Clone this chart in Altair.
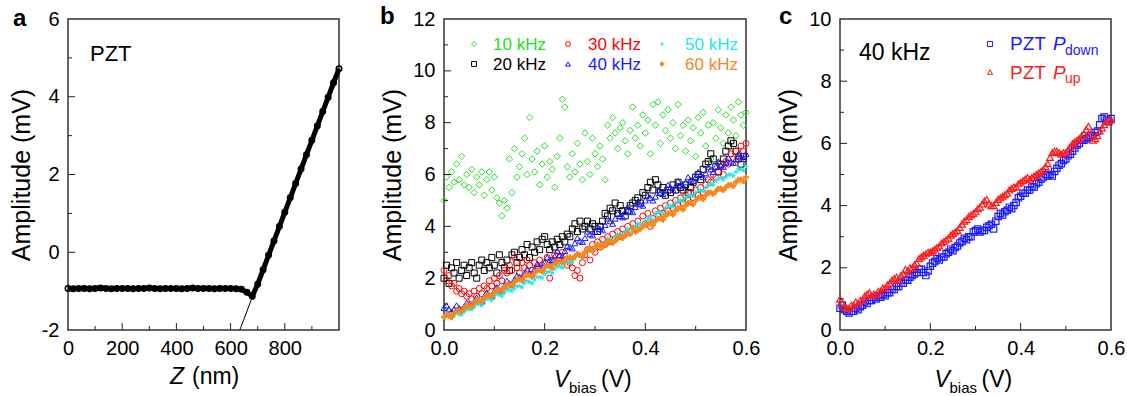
import altair as alt
import pandas as pd

FONT = "Liberation Sans"

# ---------------- Panel a data ----------------
Z_NM = [i * 20 for i in range(51)]
AMP_A = [-0.93, -0.94, -0.93, -0.93, -0.94, -0.93, -0.92, -0.93, -0.94, -0.93,
         -0.93, -0.93, -0.94, -0.93, -0.93, -0.92, -0.93, -0.94, -0.93, -0.93,
         -0.93, -0.94, -0.93, -0.92, -0.93, -0.93, -0.93, -0.94, -0.93, -0.93,
         -0.93, -0.94,
         -0.95, -1.03, -1.13, -0.82, -0.45, -0.08, 0.29, 0.66, 1.03, 1.40,
         1.77, 2.14, 2.51, 2.88, 3.25, 3.62, 3.99, 4.36, 4.72]
FIT_Z = [634, 1000]
FIT_A = [-2.0, 4.72]

# ---------------- Panel b data ----------------
V_FINE = [i / 200 for i in range(121)]   # 0.000 .. 0.600

AMP_10K = [5.0, 5.9, 5.5, 6.1, 5.7, 6.4, 5.8, 6.7, 5.6, 6.0,
           5.5, 6.2, 5.3, 5.9, 5.6, 6.1, 5.2, 5.8, 6.1, 5.4,
           5.9, 5.1, 4.9, 4.4, 5.0, 4.7, 6.6, 5.3, 7.0, 5.9,
           6.3, 6.8, 7.4, 6.0, 8.2, 6.6, 6.1, 6.9, 5.6, 6.4,
           7.1, 5.9, 6.5, 6.2, 5.5, 6.7, 7.4, 8.9, 8.6, 6.3,
           5.9, 6.8, 6.1, 7.2, 6.4, 5.8, 7.6, 6.5, 6.0, 7.4,
           6.8, 6.3, 7.1, 6.6, 5.8, 7.9, 7.4, 8.2, 7.6, 7.0,
           7.8, 8.0, 7.3, 6.8, 7.7, 8.6, 7.4, 7.9, 7.1, 8.3,
           7.6, 8.1, 6.8, 8.7, 7.9, 8.8, 7.2, 8.3, 7.7, 8.5,
           7.4, 8.0, 7.0, 8.7, 7.5, 7.9, 6.9, 8.1, 7.3, 7.8,
           6.7, 8.2, 7.6, 8.4, 7.1, 7.9, 6.6, 8.0, 7.4, 8.5,
           7.8, 7.2, 8.3, 7.6, 8.6, 8.1, 7.5, 8.8, 8.3, 7.9,
           8.4]
AMP_20K = [2.0, 2.5, 1.8, 2.4, 2.2, 2.6, 2.0, 2.3, 2.5, 2.1,
           2.4, 2.6, 2.2, 2.0, 2.5, 2.7, 2.3, 2.6, 2.4, 2.8,
           2.5, 2.2, 2.9, 2.6, 2.4, 2.7, 2.3, 2.9, 3.0, 2.6,
           2.8, 3.1, 2.9, 3.3, 2.8, 3.2, 3.0, 3.4, 3.1, 3.5,
           3.6, 3.3, 3.1, 3.4, 3.2, 3.5, 3.3, 3.6, 3.4, 3.7,
           3.6, 3.9, 4.1, 3.8, 4.2, 3.9, 4.0, 4.2, 3.9, 4.1,
           4.0, 3.8, 4.0, 4.2, 4.5, 4.4, 4.7, 4.6, 4.9, 4.5,
           4.8, 4.6, 4.4, 4.6, 4.8, 4.9, 5.0, 5.1, 4.9, 5.3,
           5.2, 5.5, 5.7, 5.4, 5.8, 5.6, 5.3, 5.5, 5.2, 5.4,
           5.3, 5.6, 5.4, 5.7, 5.5, 5.4, 5.6, 5.3, 5.5, 5.7,
           5.9, 6.0, 5.8, 6.2, 6.4, 6.5, 6.8, 6.6, 6.3, 6.1,
           6.4, 6.6, 6.9, 7.1, 7.3, 7.2, 6.9, 6.6, 6.4, 6.7]
AMP_30K = [2.3, 1.9, 2.1, 1.7, 1.8, 1.5, 1.6, 1.4, 1.5, 1.3,
           1.4, 1.2, 1.5, 1.3, 1.6, 1.4, 1.7, 1.6, 1.9, 1.7,
           2.0, 1.8, 2.1, 1.9, 2.3, 2.2, 2.5, 2.3, 2.8, 2.4,
           2.2, 2.6, 2.4, 2.7, 2.5, 2.3, 2.6, 2.4, 2.7, 2.5,
           2.6, 2.8, 2.0, 2.7, 2.9, 2.6, 2.8, 3.0, 2.7, 2.5,
           2.6, 2.4, 2.1, 2.3, 2.0, 2.6, 2.9, 3.1, 2.7, 3.3,
           3.0, 3.4, 3.2, 3.5, 3.3, 3.6, 3.4, 3.7, 3.5, 3.8,
           3.6, 3.9, 3.7, 4.0, 3.8, 4.1, 3.9, 4.2, 4.0, 4.4,
           4.1, 4.5, 4.0, 4.3, 4.6, 4.4, 4.7, 4.5, 4.8, 4.6,
           4.9, 4.7, 5.0, 4.8, 5.1, 4.9, 5.2, 5.0, 5.3, 5.1,
           5.4, 5.2, 5.5, 5.3, 5.6, 5.8, 5.7, 6.0, 5.9, 6.1,
           6.3, 6.0, 6.5, 6.4, 6.8, 6.6, 6.9, 6.7, 7.1, 6.9,
           7.2]
AMP_40K = [0.85, 0.95, 0.8, 0.7, 0.8, 0.95, 0.85, 0.8, 0.9, 1.05,
           1.0, 0.95, 1.1, 1.25, 1.15, 1.1, 1.3, 1.45, 1.35, 1.3,
           1.5, 1.65, 1.55, 1.5, 1.7, 1.9, 1.8, 1.75, 1.95, 2.1,
           2.05, 2.0, 2.15, 2.35, 2.2, 2.15, 2.35, 2.55, 2.45, 2.4,
           2.6, 2.8, 2.7, 2.65, 2.85, 3.05, 2.9, 2.85, 3.05, 3.25,
           3.2, 3.15, 3.35, 3.55, 3.45, 3.4, 3.55, 3.8, 3.7, 3.65,
           3.8, 4.0, 3.9, 3.85, 4.05, 4.3, 4.2, 4.1, 4.3, 4.5,
           4.4, 4.35, 4.55, 4.75, 4.6, 4.55, 4.75, 4.95, 4.85, 4.8,
           5.0, 5.2, 5.1, 5.0, 5.15, 5.4, 5.3, 5.25, 5.4, 5.6,
           5.5, 5.4, 5.55, 5.75, 5.6, 5.55, 5.7, 5.9, 5.8, 5.75,
           5.9, 6.1, 6.0, 5.9, 6.05, 6.3, 6.2, 6.1, 6.3, 6.5,
           6.35, 6.3, 6.45, 6.65, 6.5, 6.45, 6.6, 6.8, 6.7, 6.6,
           6.8]
AMP_50K = [0.45, 0.55, 0.5, 0.45, 0.55, 0.65, 0.6, 0.6, 0.7, 0.8,
           0.8, 0.8, 0.9, 1.0, 1.0, 0.95, 1.1, 1.2, 1.2, 1.15,
           1.3, 1.4, 1.35, 1.3, 1.45, 1.55, 1.55, 1.5, 1.6, 1.7,
           1.7, 1.65, 1.8, 1.9, 1.85, 1.8, 1.95, 2.05, 2.05, 2.0,
           2.15, 2.25, 2.25, 2.2, 2.35, 2.45, 2.45, 2.4, 2.55, 2.65,
           2.65, 2.6, 2.75, 2.85, 2.85, 2.8, 2.95, 3.05, 3.1, 3.05,
           3.2, 3.3, 3.3, 3.25, 3.4, 3.5, 3.5, 3.45, 3.6, 3.7,
           3.7, 3.65, 3.8, 3.9, 3.9, 3.85, 4.0, 4.1, 4.1, 4.05,
           4.2, 4.3, 4.3, 4.25, 4.45, 4.55, 4.55, 4.5, 4.7, 4.8,
           4.8, 4.75, 4.9, 5.0, 5.0, 4.95, 5.1, 5.2, 5.2, 5.15,
           5.3, 5.4, 5.4, 5.35, 5.5, 5.6, 5.65, 5.6, 5.75, 5.85,
           5.85, 5.8, 5.9, 6.0, 6.0, 5.95, 6.1, 6.2, 6.2, 6.15,
           6.3]
AMP_60K = [0.5, 0.6, 0.55, 0.5, 0.65, 0.75, 0.75, 0.7, 0.85, 0.95,
           0.95, 0.9, 1.05, 1.15, 1.15, 1.1, 1.25, 1.35, 1.35, 1.3,
           1.45, 1.55, 1.55, 1.5, 1.65, 1.75, 1.75, 1.7, 1.85, 1.95,
           1.95, 1.9, 2.05, 2.15, 2.1, 2.05, 2.2, 2.3, 2.3, 2.25,
           2.4, 2.5, 2.45, 2.4, 2.55, 2.65, 2.65, 2.6, 2.7, 2.8,
           2.8, 2.75, 2.85, 2.95, 2.9, 2.85, 3.0, 3.1, 3.1, 3.05,
           3.2, 3.3, 3.25, 3.2, 3.3, 3.45, 3.4, 3.35, 3.45, 3.55,
           3.6, 3.55, 3.65, 3.75, 3.7, 3.95, 3.8, 3.85, 3.9, 4.0,
           4.05, 4.1, 4.1, 4.05, 4.2, 4.3, 4.3, 4.25, 4.4, 4.5,
           4.5, 4.45, 4.6, 4.7, 4.7, 4.65, 4.8, 4.9, 4.9, 4.85,
           5.0, 5.1, 5.1, 5.05, 5.2, 5.3, 5.3, 5.25, 5.35, 5.45,
           5.45, 5.4, 5.5, 5.6, 5.6, 5.55, 5.7, 5.8, 5.8, 5.75,
           5.9]

# ---------------- Panel c data ----------------
AMP_DOWN = [0.7, 0.8, 0.65, 0.6, 0.55, 0.6, 0.6, 0.7, 0.65, 0.75,
            0.8, 0.9, 0.85, 0.95, 0.95, 1.05, 1.0, 1.1, 1.05, 1.15,
            1.1, 1.2, 1.2, 1.3, 1.3, 1.4, 1.4, 1.5, 1.5, 1.6,
            1.6, 1.7, 1.75, 1.8, 1.85, 1.95, 1.95, 1.85, 1.75, 1.9,
            2.05, 2.15, 2.2, 2.3, 2.25, 2.35, 2.35, 2.45, 2.5, 2.6,
            2.55, 2.65, 2.7, 2.8, 2.85, 2.95, 2.9, 3.0, 3.0, 3.15,
            3.2, 3.25, 3.15, 3.2, 3.2, 3.3, 3.35, 3.4, 3.25, 3.5,
            3.65, 3.75, 3.7, 3.8, 3.85, 3.95, 3.9, 4.0, 4.1, 4.25,
            4.3, 4.4, 4.4, 4.5, 4.5, 4.6, 4.6, 4.7, 4.75, 4.85,
            4.9, 5.0, 4.95, 5.0, 4.95, 5.1, 5.2, 5.3, 5.35, 5.45,
            5.5, 5.6, 5.65, 5.75, 5.85, 5.95, 6.0, 6.1, 6.1, 6.15,
            6.2, 6.25, 6.25, 6.35, 6.4, 6.6, 6.8, 6.85, 6.75, 6.7,
            6.8]
AMP_UP = [1.0, 0.85, 0.75, 0.7, 0.7, 0.8, 0.8, 0.9, 0.85, 0.95,
          0.95, 1.1, 1.15, 1.2, 1.1, 1.15, 1.15, 1.25, 1.25, 1.35,
          1.35, 1.45, 1.5, 1.6, 1.65, 1.7, 1.6, 1.75, 1.8, 1.95,
          1.9, 2.0, 2.0, 2.1, 2.15, 2.3, 2.35, 2.4, 2.45, 2.5,
          2.5, 2.55, 2.6, 2.65, 2.7, 2.8, 2.85, 2.9, 2.95, 3.05,
          3.1, 3.15, 3.2, 3.3, 3.4, 3.5, 3.55, 3.65, 3.7, 3.75,
          3.8, 3.9, 3.95, 4.05, 4.15, 4.2, 4.05, 4.0, 4.0, 4.1,
          4.2, 4.25, 4.3, 4.35, 4.4, 4.5, 4.55, 4.6, 4.6, 4.7,
          4.75, 4.8, 4.85, 4.9, 4.85, 4.9, 4.95, 5.0, 5.05, 5.1,
          5.15, 5.25, 5.35, 5.55, 5.7, 5.75, 5.75, 5.7, 5.65, 5.7,
          5.7, 5.8, 5.9, 6.0, 6.05, 6.1, 6.15, 6.25, 6.3, 6.45,
          6.55, 6.3, 6.1, 6.15, 6.25, 6.4, 6.5, 6.6, 6.7, 6.75,
          6.75]

LEGEND_B = ["10 kHz", "20 kHz", "30 kHz", "40 kHz", "50 kHz", "60 kHz"]
COLORS_B = ["#22e022", "#000000", "#ff0000", "#1a1aff", "#22e8e8", "#f7861c"]
STAR = ("M0,-1L0.2245,-0.309L0.9511,-0.309L0.3633,0.118L0.5878,0.809L0,0.382"
        "L-0.5878,0.809L-0.3633,0.118L-0.9511,-0.309L-0.2245,-0.309Z")
SHAPES_B = ["diamond", "square", "circle", "triangle-up", STAR, "cross"]
FILLED_B = [False, False, False, False, True, True]
SIZES_B = [42, 36, 36, 36, 40, 34]

W_A, W_B, W_C, H = 271, 302, 271, 311
TICK_C = "#222222"


def one():
    return pd.DataFrame({"k": [0]})


def make_axes(xvals, yvals, xfmt):
    ax = alt.Axis(values=xvals, title=None, labelExpr=xfmt, labelFlush=False,
                  labelOverlap=False, labelPadding=8)
    ay = alt.Axis(values=yvals, title="Amplitude (mV)", labelExpr="'' + datum.value",
                  labelFlush=False, labelOverlap=False, labelPadding=9, titlePadding=7)
    return ax, ay


def scatter(xs, ys, xsc, ysc, axx, axy, color, shape, size, filled=False, sw=1.0):
    df = pd.DataFrame({"x": xs, "y": ys})
    return alt.Chart(df).mark_point(
        shape=shape, size=size, filled=filled, color=color, strokeWidth=sw, opacity=1
    ).encode(x=alt.X("x:Q", scale=xsc, axis=axx), y=alt.Y("y:Q", scale=ysc, axis=axy))


def ticks(xmaj, xmin, ymaj, ymin, xsc, ysc, axx, axy):
    out = []
    for vals, L in ((xmaj, 7), (xmin, 4)):
        df = pd.DataFrame({"x": vals})
        out.append(alt.Chart(df).mark_rule(color=TICK_C, strokeWidth=1).encode(
            x=alt.X("x:Q", scale=xsc, axis=axx), y=alt.value(H), y2=alt.value(H - L)))
    for vals, L in ((ymaj, 7), (ymin, 4)):
        df = pd.DataFrame({"y": vals})
        out.append(alt.Chart(df).mark_rule(color=TICK_C, strokeWidth=1).encode(
            y=alt.Y("y:Q", scale=ysc, axis=axy), x=alt.value(0), x2=alt.value(L)))
    return out


def txt(s, x, y, size, color="black", italic=False, bold=False):
    return alt.Chart(one()).mark_text(
        text=s, font=FONT, fontSize=size, color=color,
        fontStyle="italic" if italic else "normal",
        fontWeight="bold" if bold else "normal",
        align="left", baseline="alphabetic"
    ).encode(x=alt.value(x), y=alt.value(y))


def vbias_title(cx):
    return [txt("V", cx - 41, 368, 23, italic=True),
            txt("bias", cx - 26, 374, 15),
            txt("(V)", cx + 6, 368, 23)]


# ---------------- Panel a ----------------
xa = alt.Scale(domain=[0, 1000], nice=False, zero=False)
ya = alt.Scale(domain=[-2, 6], nice=False, zero=False)
axa, aya = make_axes([0, 200, 400, 600, 800], [-2, 0, 2, 4, 6], "'' + datum.value")
dfa = pd.DataFrame({"x": Z_NM, "y": AMP_A})
dfit = pd.DataFrame({"x": FIT_Z, "y": FIT_A})
pa_layers = [
    alt.Chart(dfit).mark_line(color="black", strokeWidth=1, clip=True).encode(
        x=alt.X("x:Q", scale=xa, axis=axa), y=alt.Y("y:Q", scale=ya, axis=aya)),
    alt.Chart(dfa).mark_line(color="black", strokeWidth=5).encode(
        x=alt.X("x:Q", scale=xa, axis=axa), y=alt.Y("y:Q", scale=ya, axis=aya)),
    scatter(Z_NM, AMP_A, xa, ya, axa, aya, "black", "circle", 30, sw=1.5),
]
pa_layers += ticks([200, 400, 600, 800], [100, 300, 500, 700, 900],
                   [0, 2, 4], [-1, 1, 3, 5], xa, ya, axa, aya)
pa_layers += [txt("a", -55, 7, 24, bold=True), txt("PZT", 22, 42, 22),
              txt("Z", 102, 365, 23, italic=True), txt("(nm)", 124, 365, 23)]
pa = alt.layer(*pa_layers).properties(width=W_A, height=H)

# ---------------- Panel b ----------------
xb = alt.Scale(domain=[0, 0.6], nice=False, zero=False)
yb = alt.Scale(domain=[0, 12], nice=False, zero=False)
axb, ayb = make_axes([0, 0.2, 0.4, 0.6], [0, 2, 4, 6, 8, 10, 12],
                     "format(datum.value, '.1f')")
series_b = [AMP_10K, AMP_20K, AMP_30K, AMP_40K, AMP_50K, AMP_60K]
pb_layers = []
for ys, col, shp, fil, sz in zip(series_b, COLORS_B, SHAPES_B, FILLED_B, SIZES_B):
    pb_layers.append(scatter(V_FINE[:len(ys)], ys, xb, yb, axb, ayb, col, shp, sz,
                             filled=fil))
pb_layers += ticks([0.2, 0.4], [0.1, 0.3, 0.5], [2, 4, 6, 8, 10], [1, 3, 5, 7, 9, 11],
                   xb, yb, axb, ayb)
leg_sym_x = [30, 30, 124, 124, 218, 218]
leg_txt_x = [49, 49, 144, 144, 241, 241]
leg_y = [25, 45, 25, 45, 25, 45]
for i, lab in enumerate(LEGEND_B):
    pb_layers.append(alt.Chart(one()).mark_point(
        shape=SHAPES_B[i], size=24, filled=FILLED_B[i],
        color=COLORS_B[i], strokeWidth=1, opacity=1
    ).encode(x=alt.value(leg_sym_x[i]), y=alt.value(leg_y[i])))
    pb_layers.append(txt(lab, leg_txt_x[i], leg_y[i] + 6, 17, color=COLORS_B[i]))
pb_layers += [txt("b", -64, 5, 24, bold=True)] + vbias_title(W_B / 2)
pb = alt.layer(*pb_layers).properties(width=W_B, height=H)

# ---------------- Panel c ----------------
xc = alt.Scale(domain=[0, 0.6], nice=False, zero=False)
yc = alt.Scale(domain=[0, 10], nice=False, zero=False)
axc, ayc = make_axes([0, 0.2, 0.4, 0.6], [0, 2, 4, 6, 8, 10], "format(datum.value, '.1f')")
BLUE_C, RED_C = "#1a1aff", "#ff1a1a"
pc_layers = [scatter(V_FINE, AMP_DOWN, xc, yc, axc, ayc, BLUE_C, "square", 40, sw=1.2),
             scatter(V_FINE, AMP_UP, xc, yc, axc, ayc, RED_C, "triangle-up", 46, sw=1.2)]
pc_layers += ticks([0.2, 0.4], [0.1, 0.3, 0.5], [2, 4, 6, 8], [1, 3, 5, 7, 9],
                   xc, yc, axc, ayc)
pc_layers += [
    alt.Chart(one()).mark_point(shape="square", size=26, color=BLUE_C,
                                strokeWidth=1, opacity=1).encode(
        x=alt.value(150), y=alt.value(25)),
    alt.Chart(one()).mark_point(shape="triangle-up", size=28, color=RED_C,
                                strokeWidth=1, opacity=1).encode(
        x=alt.value(150), y=alt.value(53)),
    txt("PZT", 170, 31, 19, color=BLUE_C), txt("P", 213, 31, 19, color=BLUE_C, italic=True),
    txt("down", 225, 36, 14, color=BLUE_C),
    txt("PZT", 170, 60, 19, color=RED_C), txt("P", 213, 60, 19, color=RED_C, italic=True),
    txt("up", 225, 64, 14, color=RED_C),
    txt("40 kHz", 19, 41, 23), txt("c", -61, 5, 24, bold=True),
] + vbias_title(W_C / 2)
pc = alt.layer(*pc_layers).properties(width=W_C, height=H)

chart = alt.hconcat(pa, alt.hconcat(pb, pc, spacing=15), spacing=29).properties(
    padding={"left": 8, "top": 4, "right": 0, "bottom": 0}
).configure_view(stroke="#333333", strokeWidth=1.5).configure_axis(
    labelFont=FONT, labelFontSize=20, labelColor="black", titleFont=FONT,
    titleFontSize=25, titleFontWeight="normal", titleColor="black",
    grid=False, domain=False, ticks=False
)

chart.save("out.html", embed_options={"renderer": "svg", "actions": False})
